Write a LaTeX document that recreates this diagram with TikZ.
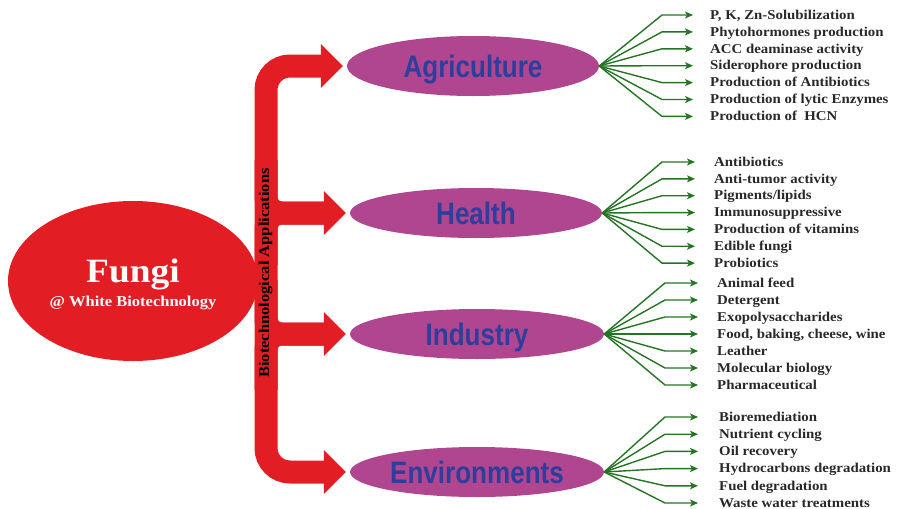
\documentclass[tikz,border=0pt]{standalone}
\usepackage{fontspec}
\setmainfont{Liberation Serif}
\newfontfamily\serifwide{Liberation Serif}[FakeStretch=1.1]
\newfontfamily\catfont{Liberation Sans}[FakeStretch=0.84]
\usetikzlibrary{shapes.geometric, arrows.meta}
\definecolor{fungired}{RGB}{226, 30, 36}
\definecolor{catpurple}{RGB}{176, 70, 143}
\definecolor{catblue}{RGB}{46, 62, 156}
\definecolor{fangreen}{RGB}{36, 116, 36}
\definecolor{itemgray}{RGB}{40, 40, 40}

\begin{document}
\begin{tikzpicture}[x=1pt, y=-1pt,
  cat/.style={ellipse, fill=catpurple, inner sep=0pt, minimum width=252pt, minimum height=50pt, text=catblue, text height=22pt, text depth=0pt, font=\catfont\bfseries\fontsize{31}{36}\selectfont},
  item/.style={anchor=west, inner sep=0pt, text height=9.5pt, text depth=1pt, text=itemgray, font=\serifwide\bfseries\fontsize{13.5}{15}\selectfont},
  fan/.style={draw=fangreen, line width=1.4pt, -{Stealth[length=8pt, width=7pt, inset=2pt]}},
  redbar/.style={draw=fungired, line width=23pt}]
  \useasboundingbox (0,0) rectangle (898,509);

  % Fungi
  \node[ellipse, fill=fungired, minimum width=250pt, minimum height=160pt, inner sep=0pt] (fungi) at (133,281) {};
  \node[text=white, align=center, font=\serifwide\bfseries\fontsize{15}{24}\selectfont, inner sep=0pt] (fungitxt) at (133,284) {{\fontsize{34}{38}\selectfont Fungi}\\@ White Biotechnology};

  % application fields
  \node[cat, minimum height=60pt] (agri) at (473,66) {Agriculture};
  \node[cat] (health) at (476,213) {Health};
  \node[cat, minimum width=254pt] (ind) at (477,334) {Industry};
  \node[cat, minimum width=254pt] (env) at (477,472) {Environments};

  % red arrows
  \coordinate (spine) at (266,281);
  \draw[redbar, rounded corners=24pt] ([xshift=-24pt]agri.west) -- (spine |- agri.west) -- (spine |- env.west) -- ([xshift=-24pt]env.west);
  \draw[redbar, rounded corners=16pt] (266,160) -- (spine |- health.west) -- ([xshift=-24pt]health.west);
  \draw[redbar, rounded corners=16pt] (266,265) -- (spine |- health.west) -- ([xshift=-24pt]health.west);
  \draw[redbar, rounded corners=16pt] (266,280) -- (spine |- ind.west) -- ([xshift=-24pt]ind.west);
  \draw[redbar, rounded corners=16pt] (266,390) -- (spine |- ind.west) -- ([xshift=-24pt]ind.west);
  \foreach \f in {agri, health, ind, env}
    \fill[fungired] ([xshift=-4pt]\f.west) -- ++(-22,-22) -- ++(0,44) -- cycle;

  \node[rotate=90, anchor=base, font=\serifwide\bfseries\fontsize{15}{18}\selectfont, inner sep=0pt] (biolabel) at (269,273) {Biotechnological Applications};

  % Agriculture
  \foreach \t [count=\i] in {{P, K, Zn-Solubilization}, Phytohormones production, ACC deaminase activity, Siderophore production, Production of Antibiotics, Production of lytic Enzymes, Production of~ HCN} {
    \pgfmathsetmacro\yy{15+16.9*(\i-1)}
    \node[item] (agri-\i) at (710,\yy) {\t};
    \draw[fan] (agri.east) -- ([xshift=-48pt]agri-\i.west) -- ([xshift=-17pt]agri-\i.west);
  }

  % Health
  \foreach \t [count=\i] in {Antibiotics, Anti-tumor activity, Pigments/lipids, Immunosuppressive, Production of vitamins, Edible fungi, Probiotics} {
    \pgfmathsetmacro\yy{162+16.85*(\i-1)}
    \node[item] (health-\i) at (714,\yy) {\t};
    \draw[fan] (health.east) -- ([xshift=-52pt]health-\i.west) -- ([xshift=-19pt]health-\i.west);
  }

  % Industry
  \foreach \t [count=\i] in {Animal feed, Detergent, Exopolysaccharides, {Food, baking, cheese, wine}, Leather, Molecular biology, Pharmaceutical} {
    \pgfmathsetmacro\yy{283+17*(\i-1)}
    \node[item] (ind-\i) at (717,\yy) {\t};
    \draw[fan] (ind.east) -- ([xshift=-52pt]ind-\i.west) -- ([xshift=-19pt]ind-\i.west);
  }

  % Environments
  \foreach \t [count=\i] in {Bioremediation, Nutrient cycling, Oil recovery, Hydrocarbons degradation, Fuel degradation, Waste water treatments} {
    \pgfmathsetmacro\yy{417+17.2*(\i-1)}
    \node[item] (env-\i) at (719,\yy) {\t};
    \draw[fan] (env.east) -- ([xshift=-54pt]env-\i.west) -- ([xshift=-21pt]env-\i.west);
  }
\end{tikzpicture}
\end{document}
